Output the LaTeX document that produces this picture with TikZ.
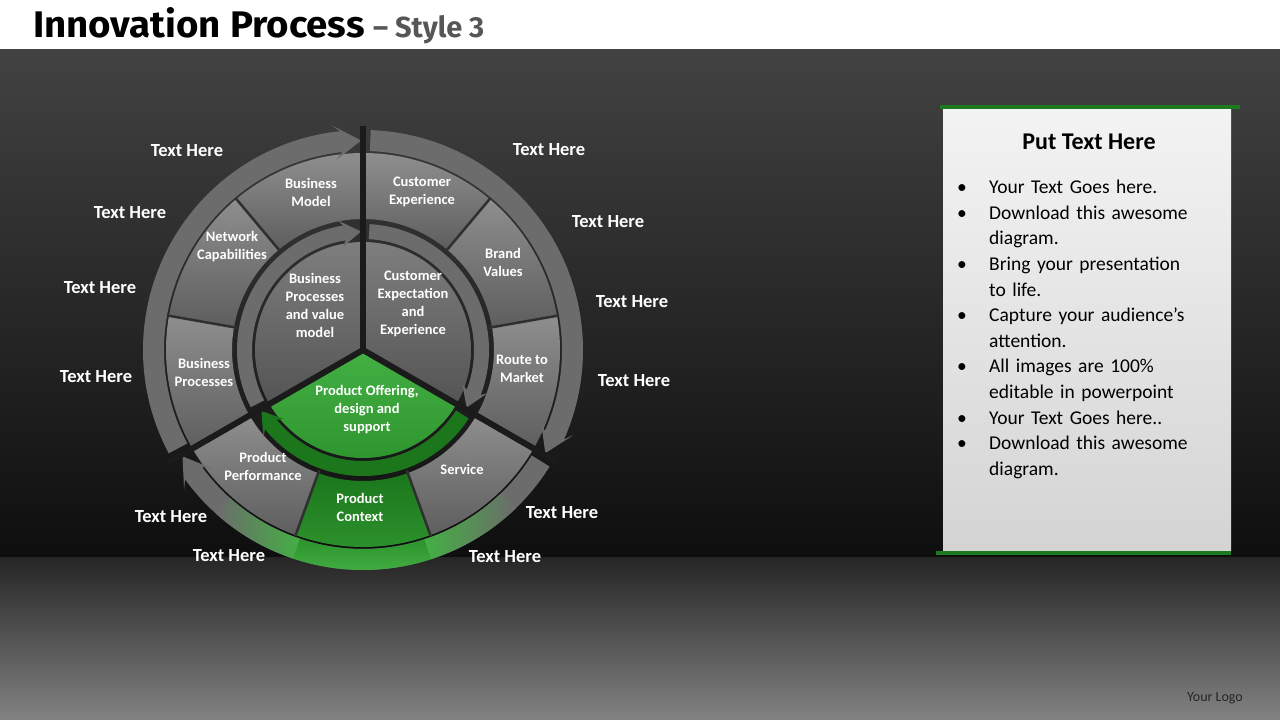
\documentclass[tikz,border=0pt]{standalone}
\usepackage{fontspec}
\setmainfont{Carlito}
\newfontfamily\headfont{Fira Sans}
\usetikzlibrary{positioning}

\definecolor{bgtop}{HTML}{424242}
\definecolor{bgbot}{HTML}{0E0E0E}
\definecolor{floortop}{HTML}{262626}
\definecolor{floorbot}{HTML}{828282}
\definecolor{seglight}{HTML}{8E8E8E}
\definecolor{segdark}{HTML}{5E5E5E}
\definecolor{bandgray}{HTML}{6C6C6C}
\definecolor{wedgelight}{HTML}{7E7E7E}
\definecolor{wedgedark}{HTML}{545454}
\definecolor{gapdark}{HTML}{1B1B1B}
\definecolor{leafgreen}{HTML}{43B043}
\definecolor{deepgreen}{HTML}{1C761C}
\definecolor{bandgreen}{HTML}{2C922C}
\definecolor{railgreen}{HTML}{1E7A1E}
\definecolor{paneltop}{HTML}{F3F3F3}
\definecolor{panelbot}{HTML}{D4D4D4}
\definecolor{subgray}{HTML}{565656}

\newcommand{\bulletline}[1]{\par\hangindent=29pt\hangafter=1\noindent\makebox[29pt][l]{\hspace{-3pt}\textbullet}#1}

\begin{document}
\begin{tikzpicture}[x=1pt, y=1pt,
  txthere/.style={text=white, inner sep=0pt, font=\bfseries\fontsize{18.5}{20}\selectfont},
  seglabel/.style={text=white, align=center, inner sep=0pt, font=\bfseries\fontsize{14.5}{18}\selectfont},
  gapline/.style={draw=gapdark, line width=6pt},
  divline/.style={draw=gapdark!80!gray, line width=2.5pt},
  rail/.style={draw=railgreen, line width=4.5pt},
]
\useasboundingbox (0,0) rectangle (1280,720);
\fill[white] (0,0) rectangle (1280,720);
\shade[top color=bgtop, bottom color=bgbot] (0,162) rectangle (1280,670);
\shade[top color=floortop, bottom color=floorbot] (0,0) rectangle (1280,162);

% title
\node[anchor=base west, inner sep=0pt, font=\headfont\bfseries\fontsize{37}{37}\selectfont] (title) at (33,682) {\scalebox{1.038}[1]{Innovation Process}};
\node[anchor=base west, inner sep=0pt, text=subgray, font=\headfont\bfseries\fontsize{29}{29}\selectfont] (subtitle) at ([xshift=8pt]title.base east) {– Style 3};

% pie
\begin{scope}[shift={(363,370)}]
% outer segments
\foreach \a/\b in {90/130,130/170,170/210,-30/10,10/50,50/90,210/250,290/330}
  \shade[top color=seglight, bottom color=segdark] (\a:131) arc[start angle=\a, end angle=\b, radius=131] -- (\b:197) arc[start angle=\b, end angle=\a, radius=197] -- cycle;
\shade[top color=deepgreen, bottom color=bandgreen] (250:131) arc[start angle=250, end angle=290, radius=131] -- (290:197) arc[start angle=290, end angle=250, radius=197] -- cycle;

% outer arrow bands
\foreach \lo in {90,-30,210}
  \fill[bandgray] (\lo+6:199) arc[start angle=\lo+6, end angle=\lo+118, radius=199] -- (\lo+118:220) arc[start angle=\lo+118, end angle=\lo+6, radius=220] -- (\lo+8:227) -- (\lo+0.5:209.5) -- (\lo+8:192) -- cycle;
% green part of the bottom band
\shade[left color=bandgray, right color=leafgreen] (228:199) arc[start angle=228, end angle=252, radius=199] -- (252:220) arc[start angle=252, end angle=228, radius=220] -- cycle;
\shade[top color=bandgreen, bottom color=leafgreen] (251.5:199) arc[start angle=251.5, end angle=288.5, radius=199] -- (288.5:220) arc[start angle=288.5, end angle=251.5, radius=220] -- cycle;
\shade[left color=leafgreen, right color=bandgray] (288:199) arc[start angle=288, end angle=314, radius=199] -- (314:220) arc[start angle=314, end angle=288, radius=220] -- cycle;

% inner wedges
\foreach \lo in {90,-30}
  \shade[top color=wedgelight, bottom color=wedgedark] (0,0) -- (\lo:108) arc[start angle=\lo, end angle=\lo+120, radius=108] -- cycle;
\shade[top color=leafgreen, bottom color=bandgreen] (0,0) -- (210:108) arc[start angle=210, end angle=330, radius=108] -- cycle;

% inner arrow bands
\foreach \lo/\col in {90/bandgray,-30/bandgray,210/deepgreen}
  \fill[\col] (\lo+9:111) arc[start angle=\lo+9, end angle=\lo+117, radius=111] -- (\lo+117:126) arc[start angle=\lo+117, end angle=\lo+9, radius=126] -- (\lo+11:132) -- (\lo+1:118.5) -- (\lo+11:105) -- cycle;

% dividers
\foreach \t in {130,170,10,50,250,290}
  \draw[divline] (\t:128) -- (\t:198);
\foreach \t in {90,210,330}
  \draw[gapline] (0,0) -- (\t:224);
\end{scope}

% segment labels
\node[seglabel] (bizmodel) at (311,528) {Business\\Model};
\node[seglabel] (network) at (232,473) {Network\\Capabilities};
\node[seglabel] (bizproc) at (204,348) {Business\\Processes};
\node[seglabel] (bizvalue) at (315,415) {Business\\Processes\\and value\\model};
\node[seglabel] (custexp) at (422,528) {Customer\\Experience};
\node[seglabel] (brand) at (503,458) {Brand\\Values};
\node[seglabel] (route) at (522,351) {Route to\\Market};
\node[seglabel] (custexpect) at (413,416) {Customer\\Expectation\\and\\Experience};
\node[seglabel] (offering) at (367,310) {Product Offering,\\design and\\support};
\node[seglabel] (perform) at (263,254) {Product\\Performance};
\node[seglabel] (context) at (360,213) {Product\\Context};
\node[seglabel] (service) at (462,251) {Service};

% outer labels
\foreach \n/\x/\y in {a/187/569, b/130/507, c/100/432, d/96/343, e/171/203, f/229/164,
                      g/549/570, h/608/498, i/632/418, j/634/339, k/562/207, l/505/163}
  \node[txthere] (here\n) at (\x,\y) {Text Here};

% text panel
\shade[top color=paneltop, bottom color=panelbot] (943,169) rectangle (1231,610);
\draw[rail] (940,613) -- (1240,613);
\draw[rail] (936,167) -- (1231,167);
\node[font=\bfseries\fontsize{24}{24}\selectfont] (paneltitle) at (1089,578) {Put Text Here};
\node[anchor=north west, text width=262pt, inner sep=0pt, font=\fontsize{19.5}{25.6}\selectfont] (bullets) at (960,552) {%
\bulletline{Your Text Goes here.}
\bulletline{Download this awesome\newline diagram.}
\bulletline{Bring your presentation\newline to life.}
\bulletline{Capture your audience’s\newline attention.}
\bulletline{All images are 100\%\newline editable in powerpoint}
\bulletline{Your Text Goes here..}
\bulletline{Download this awesome\newline diagram.}\par};

\node[text=black!85, font=\fontsize{14}{14}\selectfont] (logo) at (1215,22) {Your Logo};
\end{tikzpicture}
\end{document}
